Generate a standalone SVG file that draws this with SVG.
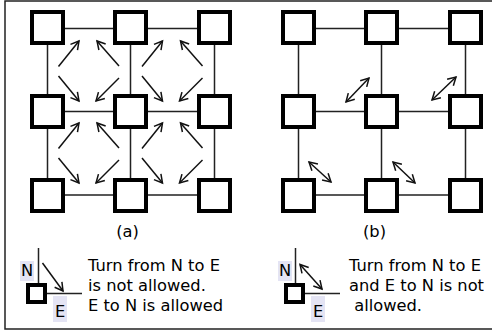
<svg xmlns="http://www.w3.org/2000/svg" width="492" height="334" viewBox="0 0 492 334">
  <style>
    .frame { fill: none; stroke: #222; stroke-width: 1.5; }
    .link { stroke: #222; stroke-width: 1.5; fill: none; }
    .node { fill: #fff; stroke: #000; stroke-width: 4; }
    .arrow { stroke: #111; stroke-width: 1.5; fill: none; marker-end: url(#head); }
    .dbl { stroke: #111; stroke-width: 1.5; fill: none; marker-start: url(#head); marker-end: url(#head); }
    .lbl { font-family: "DejaVu Sans", "Liberation Sans", sans-serif; font-size: 16.3px; fill: #000; }
    .tag { fill: #e4e4f4; }
  </style>
  <defs>
    <marker id="head" viewBox="-10 -6 12 12" refX="0" refY="0" markerWidth="12" markerHeight="12" markerUnits="userSpaceOnUse" orient="auto-start-reverse">
      <path d="M-8,-4.5 L0,0 L-8,4.5" fill="none" stroke="#111" stroke-width="1.5"/>
    </marker>
  </defs>

  <rect width="492" height="334" fill="#fff"/>
  <path class="frame" d="M492,1 H5 V329 H492"/>

  <!-- connectors -->
  <g id="connectors">
    <!-- mesh (a) -->
    <path class="link" d="M47.5,28.5 H214.5 M47.5,111.5 H214.5 M47.5,195 H214.5 M47.5,27.5 V195.5 M130.5,27.5 V195.5 M214.5,27.5 V195.5"/>
    <!-- mesh (b) -->
    <path class="link" d="M298.5,28.5 H465.5 M298.5,111.5 H465.5 M298.5,195 H465.5 M298.5,27.5 V195.5 M381.5,27.5 V195.5 M465.5,27.5 V195.5"/>

    <!-- allowed turns (a) -->
    <g id="turns-a">
      <g>
        <line class="arrow" x1="58.5" y1="66.5" x2="79" y2="41"/>
        <line class="arrow" x1="119" y1="66" x2="97" y2="41"/>
        <line class="arrow" x1="58.5" y1="76" x2="79" y2="101"/>
        <line class="arrow" x1="119" y1="78" x2="96" y2="101"/>
      </g>
      <g transform="translate(83.5,0)">
        <line class="arrow" x1="58.5" y1="66.5" x2="79" y2="41"/>
        <line class="arrow" x1="119" y1="66" x2="97" y2="41"/>
        <line class="arrow" x1="58.5" y1="76" x2="79" y2="101"/>
        <line class="arrow" x1="119" y1="78" x2="96" y2="101"/>
      </g>
      <g transform="translate(0,82)">
        <line class="arrow" x1="58.5" y1="66.5" x2="79" y2="41"/>
        <line class="arrow" x1="119" y1="66" x2="97" y2="41"/>
        <line class="arrow" x1="58.5" y1="76" x2="79" y2="101"/>
        <line class="arrow" x1="119" y1="78" x2="96" y2="101"/>
      </g>
      <g transform="translate(83.5,82)">
        <line class="arrow" x1="58.5" y1="66.5" x2="79" y2="41"/>
        <line class="arrow" x1="119" y1="66" x2="97" y2="41"/>
        <line class="arrow" x1="58.5" y1="76" x2="79" y2="101"/>
        <line class="arrow" x1="119" y1="78" x2="96" y2="101"/>
      </g>
    </g>

    <!-- forbidden turn pairs (b) -->
    <g id="turns-b">
      <line class="dbl" x1="346" y1="102" x2="369" y2="78"/>
      <line class="dbl" x1="432" y1="100" x2="456" y2="77"/>
      <line class="dbl" x1="309" y1="162" x2="331" y2="182"/>
      <line class="dbl" x1="393" y1="162" x2="415" y2="183"/>
    </g>
  </g>

  <!-- routers (a) -->
  <g id="a-r0c0"><rect class="node" x="32" y="12" width="31" height="31"/></g>
  <g id="a-r0c1"><rect class="node" x="115" y="12" width="31" height="31"/></g>
  <g id="a-r0c2"><rect class="node" x="199" y="12" width="31" height="31"/></g>
  <g id="a-r1c0"><rect class="node" x="32" y="96" width="31" height="31"/></g>
  <g id="a-r1c1"><rect class="node" x="115" y="96" width="31" height="31"/></g>
  <g id="a-r1c2"><rect class="node" x="199" y="96" width="31" height="31"/></g>
  <g id="a-r2c0"><rect class="node" x="32" y="180" width="31" height="31"/></g>
  <g id="a-r2c1"><rect class="node" x="115" y="180" width="31" height="31"/></g>
  <g id="a-r2c2"><rect class="node" x="199" y="180" width="31" height="31"/></g>

  <!-- routers (b) -->
  <g id="b-r0c0"><rect class="node" x="283" y="12" width="31" height="31"/></g>
  <g id="b-r0c1"><rect class="node" x="366" y="12" width="31" height="31"/></g>
  <g id="b-r0c2"><rect class="node" x="450" y="12" width="31" height="31"/></g>
  <g id="b-r1c0"><rect class="node" x="283" y="96" width="31" height="31"/></g>
  <g id="b-r1c1"><rect class="node" x="366" y="96" width="31" height="31"/></g>
  <g id="b-r1c2"><rect class="node" x="450" y="96" width="31" height="31"/></g>
  <g id="b-r2c0"><rect class="node" x="283" y="180" width="31" height="31"/></g>
  <g id="b-r2c1"><rect class="node" x="366" y="180" width="31" height="31"/></g>
  <g id="b-r2c2"><rect class="node" x="450" y="180" width="31" height="31"/></g>

  <!-- captions -->
  <g id="cap-a"><text class="lbl" x="127.5" y="237" text-anchor="middle">(a)</text></g>
  <g id="cap-b"><text class="lbl" x="374.5" y="237" text-anchor="middle">(b)</text></g>

  <!-- key (a) -->
  <g id="key-a">
    <rect class="tag" x="20" y="261" width="14" height="20"/>
    <rect class="tag" x="53" y="296" width="14" height="26"/>
    <line class="link" x1="38.5" y1="248" x2="38.5" y2="285"/>
    <line class="link" x1="45" y1="293.5" x2="82" y2="293.5"/>
    <rect class="node" x="28" y="285" width="17" height="17"/>
    <line class="arrow" x1="42.5" y1="263" x2="63" y2="291"/>
    <text class="lbl" x="21" y="276">N</text>
    <text class="lbl" x="55" y="317">E</text>
    <text class="lbl" x="88" y="271">Turn from N to E</text>
    <text class="lbl" x="88" y="290.5">is not allowed.</text>
    <text class="lbl" x="88" y="311">E to N is allowed</text>
  </g>

  <!-- key (b) -->
  <g id="key-b">
    <rect class="tag" x="278" y="261" width="14" height="20"/>
    <rect class="tag" x="311" y="296" width="14" height="26"/>
    <line class="link" x1="295.5" y1="248" x2="295.5" y2="285"/>
    <line class="link" x1="303" y1="293.5" x2="340" y2="293.5"/>
    <rect class="node" x="286" y="285" width="17" height="17"/>
    <line class="dbl" x1="300" y1="264.5" x2="322" y2="289"/>
    <text class="lbl" x="279" y="276">N</text>
    <text class="lbl" x="313" y="317">E</text>
    <text class="lbl" x="349" y="271">Turn from N to E</text>
    <text class="lbl" x="349" y="290.5">and E to N is not</text>
    <text class="lbl" x="349" y="311" xml:space="preserve"> allowed.</text>
  </g>
</svg>
